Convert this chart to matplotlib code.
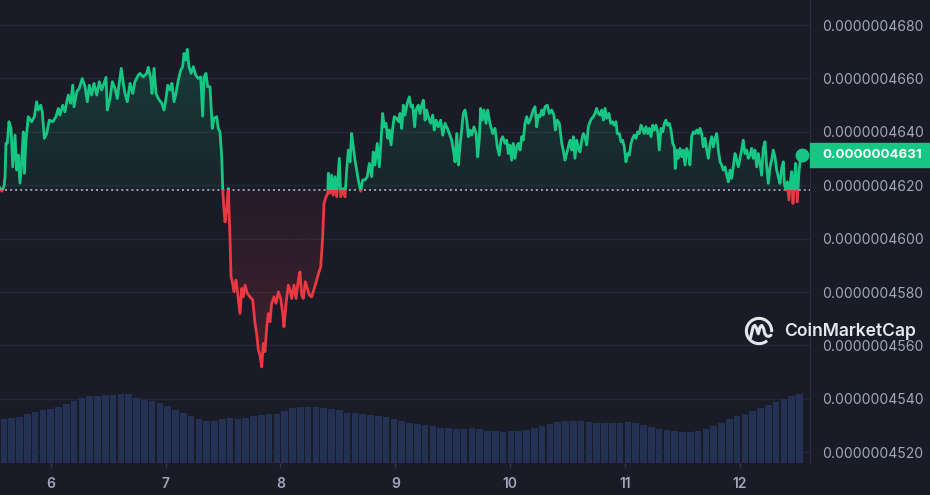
import numpy as np
import matplotlib
matplotlib.use('Agg')
import matplotlib.pyplot as plt
import matplotlib.transforms as mtransforms
from matplotlib.colors import LinearSegmentedColormap, to_rgb
from matplotlib.patches import Rectangle, Arc
from matplotlib.ticker import FuncFormatter

# price, in units of 1e-16 (4631.3 -> 0.00000046313), time in days of the month
price_day = [
    5.559, 5.576, 5.594, 5.603, 5.611, 5.623, 5.637, 5.655, 5.670, 5.690,
    5.704, 5.718, 5.733, 5.748, 5.762, 5.771, 5.785, 5.805, 5.835, 5.858,
    5.878, 5.892, 5.913, 5.927, 5.945, 5.966, 5.988, 6.018, 6.046, 6.067,
    6.081, 6.105, 6.125, 6.140, 6.154, 6.174, 6.192, 6.203, 6.227, 6.249,
    6.275, 6.299, 6.319, 6.336, 6.357, 6.377, 6.401, 6.423, 6.444, 6.464,
    6.482, 6.493, 6.517, 6.537, 6.560, 6.580, 6.597, 6.615, 6.632, 6.647,
    6.667, 6.691, 6.714, 6.734, 6.763, 6.778, 6.806, 6.836, 6.850, 6.871,
    6.882, 6.900, 6.917, 6.937, 6.967, 6.987, 7.004, 7.019, 7.039, 7.056,
    7.074, 7.091, 7.111, 7.132, 7.149, 7.161, 7.176, 7.189, 7.204, 7.222,
    7.242, 7.262, 7.285, 7.306, 7.323, 7.335, 7.352, 7.367, 7.387, 7.407,
    7.422, 7.445, 7.459, 7.474, 7.489, 7.498, 7.509, 7.518, 7.532, 7.546,
    7.561, 7.570, 7.581, 7.596, 7.613, 7.628, 7.648, 7.663, 7.677, 7.692,
    7.712, 7.735, 7.759, 7.779, 7.793, 7.808, 7.822, 7.837, 7.851, 7.866,
    7.881, 7.895, 7.909, 7.924, 7.944, 7.962, 7.982, 8.002, 8.020, 8.031,
    8.049, 8.069, 8.083, 8.098, 8.118, 8.136, 8.156, 8.170, 8.185, 8.199,
    8.217, 8.234, 8.251, 8.272, 8.295, 8.316, 8.336, 8.351, 8.368, 8.379,
    8.397, 8.412, 8.417, 8.432, 8.446, 8.460, 8.475, 8.490, 8.513, 8.525,
    8.547, 8.562, 8.577, 8.591, 8.606, 8.620, 8.634, 8.649, 8.664, 8.678,
    8.699, 8.716, 8.736, 8.756, 8.774, 8.795, 8.808, 8.823, 8.843, 8.861,
    8.876, 8.890, 8.904, 8.919, 8.934, 8.948, 8.963, 8.977, 8.991, 9.012,
    9.030, 9.041, 9.056, 9.070, 9.084, 9.104, 9.122, 9.137, 9.151, 9.169,
    9.180, 9.200, 9.215, 9.230, 9.244, 9.259, 9.273, 9.287, 9.308, 9.326,
    9.339, 9.354, 9.374, 9.395, 9.413, 9.433, 9.453, 9.476, 9.491, 9.505,
    9.520, 9.535, 9.549, 9.563, 9.578, 9.592, 9.607, 9.622, 9.636, 9.650,
    9.665, 9.685, 9.703, 9.717, 9.731, 9.743, 9.757, 9.772, 9.790, 9.804,
    9.824, 9.848, 9.868, 9.888, 9.905, 9.920, 9.935, 9.955, 9.970, 9.984,
    9.998, 10.013, 10.027, 10.042, 10.057, 10.071, 10.086, 10.100, 10.114, 10.129,
    10.144, 10.158, 10.173, 10.187, 10.201, 10.216, 10.231, 10.245, 10.260, 10.274,
    10.288, 10.303, 10.323, 10.341, 10.361, 10.381, 10.393, 10.410, 10.428, 10.449,
    10.462, 10.477, 10.492, 10.506, 10.521, 10.536, 10.550, 10.564, 10.579, 10.593,
    10.608, 10.623, 10.637, 10.651, 10.666, 10.680, 10.695, 10.710, 10.724, 10.738,
    10.753, 10.767, 10.782, 10.797, 10.811, 10.826, 10.840, 10.860, 10.875, 10.892,
    10.904, 10.921, 10.932, 10.950, 10.965, 10.979, 10.993, 11.008, 11.023, 11.037,
    11.052, 11.066, 11.080, 11.095, 11.110, 11.124, 11.139, 11.153, 11.167, 11.182,
    11.197, 11.211, 11.226, 11.241, 11.255, 11.269, 11.284, 11.298, 11.313, 11.328,
    11.342, 11.356, 11.371, 11.385, 11.400, 11.415, 11.429, 11.437, 11.450, 11.463,
    11.478, 11.493, 11.507, 11.522, 11.537, 11.551, 11.565, 11.580, 11.594, 11.609,
    11.624, 11.638, 11.652, 11.667, 11.681, 11.696, 11.711, 11.725, 11.740, 11.754,
    11.768, 11.783, 11.798, 11.812, 11.827, 11.841, 11.855, 11.870, 11.885, 11.899,
    11.914, 11.928, 11.942, 11.957, 11.972, 11.986, 12.001, 12.015, 12.029, 12.044,
    12.059, 12.073, 12.088, 12.102, 12.116, 12.131, 12.146, 12.160, 12.175, 12.189,
    12.203, 12.218, 12.233, 12.247, 12.262, 12.276, 12.290, 12.305, 12.320, 12.334,
    12.349, 12.363, 12.378, 12.386, 12.398, 12.412, 12.427, 12.438, 12.450, 12.462,
    12.473, 12.485, 12.499, 12.514, 12.523, 12.543,
]
price_val = [
    4619.0, 4617.8, 4619.7, 4623.2, 4635.8, 4635.8, 4643.8, 4641.4, 4626.9, 4638.8,
    4625.7, 4631.3, 4620.8, 4629.4, 4640.0, 4624.5, 4636.9, 4645.7, 4643.8, 4645.7,
    4651.3, 4648.2, 4650.0, 4647.5, 4637.6, 4639.4, 4644.4, 4643.8, 4645.7, 4648.8,
    4646.3, 4650.0, 4647.5, 4651.3, 4653.8, 4650.7, 4657.5, 4649.4, 4655.0, 4656.3,
    4660.0, 4656.9, 4651.3, 4657.5, 4653.8, 4658.2, 4653.8, 4658.8, 4655.7, 4658.2,
    4660.4, 4648.2, 4652.5, 4658.8, 4656.3, 4652.5, 4658.2, 4663.8, 4658.2, 4654.4,
    4651.3, 4658.2, 4654.4, 4658.8, 4661.3, 4661.9, 4660.6, 4661.9, 4664.2, 4660.0,
    4654.4, 4663.8, 4654.4, 4652.5, 4650.7, 4648.2, 4652.5, 4657.5, 4655.7, 4658.2,
    4651.3, 4654.4, 4659.4, 4663.1, 4664.4, 4669.4, 4666.9, 4670.9, 4664.4, 4661.9,
    4664.4, 4661.3, 4660.0, 4660.6, 4645.9, 4660.6, 4661.9, 4656.9, 4656.9, 4641.3,
    4645.1, 4645.7, 4641.3, 4640.0, 4630.7, 4618.2, 4610.7, 4606.3, 4610.7, 4618.8,
    4600.7, 4585.7, 4583.9, 4580.1, 4584.5, 4579.5, 4572.0, 4581.4, 4578.2, 4582.6,
    4579.5, 4578.2, 4577.0, 4568.3, 4564.5, 4558.3, 4556.4, 4552.0, 4560.8, 4557.7,
    4567.0, 4572.0, 4568.9, 4575.8, 4578.2, 4575.8, 4580.1, 4577.6, 4572.0, 4567.0,
    4575.8, 4582.6, 4580.8, 4577.6, 4582.6, 4577.6, 4584.5, 4587.6, 4578.9, 4577.6,
    4583.9, 4581.4, 4578.9, 4578.2, 4581.4, 4584.5, 4587.6, 4589.5, 4600.7, 4613.2,
    4615.7, 4617.0, 4624.5, 4617.0, 4623.8, 4616.3, 4623.2, 4615.7, 4630.1, 4615.7,
    4618.8, 4615.7, 4625.7, 4633.2, 4628.8, 4639.4, 4634.4, 4629.4, 4625.7, 4622.0,
    4617.8, 4622.0, 4622.0, 4623.2, 4628.2, 4623.2, 4632.5, 4627.6, 4635.7, 4626.9,
    4636.9, 4646.9, 4641.9, 4643.2, 4637.6, 4640.7, 4635.1, 4641.3, 4645.7, 4645.1,
    4643.8, 4646.9, 4641.3, 4650.0, 4646.3, 4650.7, 4653.1, 4649.4, 4650.0, 4641.9,
    4648.2, 4650.0, 4646.9, 4650.0, 4651.9, 4644.4, 4648.2, 4645.7, 4643.2, 4646.3,
    4640.7, 4644.4, 4641.9, 4644.4, 4638.8, 4643.2, 4641.3, 4638.8, 4636.9, 4633.2,
    4628.8, 4639.4, 4627.6, 4634.4, 4640.7, 4646.9, 4648.2, 4644.4, 4638.2, 4640.7,
    4638.8, 4641.9, 4639.4, 4630.7, 4636.9, 4648.8, 4644.4, 4648.2, 4643.2, 4648.2,
    4643.2, 4639.4, 4641.3, 4634.4, 4631.3, 4636.9, 4638.2, 4635.7, 4636.9, 4631.9,
    4635.1, 4629.4, 4635.7, 4630.1, 4634.4, 4635.7, 4633.2, 4638.2, 4636.9, 4643.2,
    4645.7, 4643.2, 4644.4, 4646.3, 4648.2, 4649.4, 4641.9, 4646.3, 4645.7, 4648.2,
    4646.3, 4649.4, 4650.0, 4646.9, 4648.2, 4646.3, 4640.7, 4644.4, 4643.2, 4635.7,
    4633.2, 4629.4, 4631.9, 4634.4, 4636.9, 4633.2, 4638.2, 4630.1, 4636.9, 4633.8,
    4632.5, 4636.9, 4639.4, 4638.2, 4635.1, 4641.9, 4643.8, 4645.1, 4645.7, 4646.9,
    4648.8, 4646.9, 4646.3, 4648.2, 4644.4, 4648.8, 4645.1, 4646.9, 4643.2, 4643.8,
    4642.5, 4643.8, 4639.4, 4639.4, 4636.3, 4636.9, 4634.4, 4628.8, 4631.9, 4631.3,
    4635.7, 4637.6, 4638.8, 4637.6, 4640.0, 4639.4, 4642.5, 4641.3, 4639.4, 4641.9,
    4639.4, 4641.3, 4638.2, 4642.5, 4640.7, 4642.5, 4640.0, 4633.2, 4641.3, 4640.0,
    4643.2, 4644.4, 4642.5, 4643.2, 4640.7, 4635.7, 4634.4, 4626.3, 4633.2, 4630.1,
    4633.8, 4630.7, 4633.2, 4627.6, 4633.8, 4631.9, 4627.6, 4638.2, 4640.0, 4639.4,
    4640.7, 4639.4, 4641.3, 4639.4, 4634.4, 4637.6, 4633.2, 4630.1, 4635.7, 4638.2,
    4634.4, 4637.6, 4639.4, 4633.2, 4628.8, 4627.6, 4625.7, 4626.9, 4623.8, 4621.3,
    4625.7, 4622.6, 4626.9, 4631.9, 4629.4, 4626.9, 4630.1, 4633.2, 4636.9, 4631.9,
    4633.2, 4630.1, 4631.3, 4633.8, 4630.1, 4633.2, 4626.9, 4631.9, 4628.2, 4623.8,
    4633.8, 4636.3, 4626.9, 4620.7, 4626.9, 4629.4, 4633.2, 4630.7, 4625.7, 4623.2,
    4620.7, 4626.3, 4628.8, 4620.7, 4618.2, 4621.3, 4614.5, 4620.7, 4625.1, 4613.2,
    4622.0, 4628.2, 4613.8, 4625.1, 4628.8, 4631.3,
]

# volume bars (relative units), one bar per period
volume = [
    44.1, 44.7, 45.9, 48.7, 51.0, 52.4, 53.7, 55.7, 58.7, 62.0,
    65.2, 67.0, 67.0, 67.4, 67.9, 68.4, 68.4, 65.2, 63.2, 62.2,
    60.2, 56.7, 53.2, 50.1, 47.0, 43.5, 42.0, 41.9, 43.4, 44.9,
    43.6, 44.7, 46.4, 47.9, 48.4, 49.2, 51.7, 54.3, 56.0, 56.0,
    56.0, 55.2, 53.9, 52.5, 50.0, 49.4, 49.0, 48.1, 46.7, 45.4,
    43.7, 41.7, 40.2, 38.6, 37.5, 36.3, 35.2, 34.4, 34.1, 34.2,
    34.3, 33.7, 32.1, 31.3, 31.2, 31.5, 31.8, 33.1, 34.6, 36.6,
    38.7, 40.3, 41.7, 41.8, 41.3, 40.3, 39.5, 39.6, 39.6, 39.6,
    40.3, 39.7, 37.7, 35.5, 34.2, 32.8, 32.0, 31.1, 30.7, 32.1,
    34.0, 36.9, 40.1, 43.4, 46.6, 49.2, 51.7, 54.5, 58.1, 61.2,
    64.1, 67.2, 68.7,
]
vol_first_day, vol_last_day = 5.593, 12.518

baseline = 4618.2  # opening price (dotted line)
y_ticks = [4520, 4540, 4560, 4580, 4600, 4620, 4640, 4660, 4680]
x_ticks = [6, 7, 8, 9, 10, 11, 12]

BG = '#191b27'
GREEN = '#16c784'
RED = '#ea3943'
GRID = '#242735'
TXT = '#a1a7bb'
VOL = '#253055'

plt.rcParams['font.family'] = ['Inter', 'DejaVu Sans']

fig = plt.figure(figsize=(9.3, 4.95), dpi=100, facecolor=BG)
ax = fig.add_axes([0, 32.3 / 495, 810 / 930, 462.7 / 495])
ax.set_facecolor(BG)
x0, x1 = 5.559, 12.610
ylo, yhi = 4516.1, 4689.4

# volume on a twin axis at the bottom
vax = ax.twinx()
vol_days = np.linspace(vol_first_day, vol_last_day, len(volume))
step = vol_days[1] - vol_days[0]
vax.bar(vol_days, volume, width=step * 0.84, color=VOL, linewidth=0)
vax.set_ylim(0, 462.7)
vax.axis('off')

# gradient fills between price and baseline
band = ax.fill_between(price_day, price_val, baseline, facecolor='none', edgecolor='none')
clip = band.get_paths()[0]
g_rgb = to_rgb(GREEN)
r_rgb = to_rgb(RED)
gcmap = LinearSegmentedColormap.from_list('g', [(*g_rgb, 0.06), (*g_rgb, 0.19)])
rcmap = LinearSegmentedColormap.from_list('r', [(*r_rgb, 0.05), (*r_rgb, 0.20)])
grad = np.linspace(0, 1, 256).reshape(-1, 1)
im_g = ax.imshow(grad, cmap=gcmap, extent=[x0, x1, baseline, max(price_val)],
                 origin='lower', aspect='auto', zorder=2, interpolation='bilinear')
im_g.set_clip_path(clip, transform=ax.transData)
im_r = ax.imshow(grad[::-1], cmap=rcmap, extent=[x0, x1, min(price_val), baseline],
                 origin='lower', aspect='auto', zorder=2, interpolation='bilinear')
im_r.set_clip_path(clip, transform=ax.transData)

ax.axhline(baseline, color='#9aa0ae', lw=1.4, ls=(0, (1, 1.6)), zorder=3)

# price line: green above the baseline, red below
for col, rect in ((GREEN, Rectangle((x0, baseline), x1 - x0, 300, transform=ax.transData)),
                  (RED, Rectangle((x0, baseline - 300), x1 - x0, 300, transform=ax.transData))):
    ln, = ax.plot(price_day, price_val, color=col, lw=2.0, zorder=4, solid_joinstyle='round')
    ln.set_clip_path(rect)
ax.plot(price_day[-1], price_val[-1], 'o', ms=9, color=GREEN, zorder=5, clip_on=False)

ax.set_xlim(x0, x1)
ax.set_ylim(ylo, yhi)

# axes styling
ax.set_yticks(y_ticks)
ax.yaxis.tick_right()
ax.yaxis.set_major_formatter(FuncFormatter(lambda v, p: f"0.000000{int(round(v)):04d}"))
ax.tick_params(axis='y', length=0, pad=8.4, labelsize=10, labelcolor=TXT)
ax.grid(axis='y', color=GRID, lw=1)
ax.set_axisbelow(True)
ax.set_xticks(x_ticks)
ax.tick_params(axis='x', length=3, width=1, color='#363a48', pad=7, labelsize=10, labelcolor=TXT)
for lbl in ax.get_xticklabels():
    lbl.set_fontweight('semibold')
for s in ('top', 'left', 'bottom'):
    ax.spines[s].set_visible(False)
ax.spines['right'].set_color('#2a2d3a')

# last price tag
trans = mtransforms.blended_transform_factory(ax.transAxes, ax.transData)
ax.add_patch(Rectangle((1.0, price_val[-1] - 4.5), 120 / 810, 9.0, transform=trans,
                       color=GREEN, clip_on=False, zorder=6))
ax.text(1 + 12 / 810, price_val[-1], f"0.000000{int(round(price_val[-1])):04d}",
        transform=trans, va='center', ha='left', color='white', fontsize=9.6,
        fontweight='bold', zorder=7, clip_on=False)

# watermark
fig.text(784 / 930, 1 - 331 / 495, 'CoinMarketCap', color='#e4e6ec', fontsize=12.6,
         fontweight='semibold', va='center', ha='left')
lax = fig.add_axes([744 / 930, (495 - 346) / 495, 30 / 930, 30 / 495])
lax.set_xlim(-1.07, 1.07)
lax.set_ylim(-1.07, 1.07)
lax.axis('off')
lax.add_patch(Arc((0, 0), 1.8, 1.8, theta1=-5, theta2=310, lw=2.2, color='#e4e6ec'))
mx = [-0.6, -0.42, -0.3, -0.18, -0.05, 0.08, 0.2, 0.32, 0.42, 0.55, 0.72, 0.85]
my = [-0.48, 0.3, 0.4, 0.2, -0.2, 0.3, 0.4, 0.2, -0.2, -0.36, -0.38, -0.3]
lax.plot(mx, my, color='#e4e6ec', lw=2.2, solid_capstyle='round', solid_joinstyle='round')

fig.savefig('out.png', dpi=100, facecolor=BG)
